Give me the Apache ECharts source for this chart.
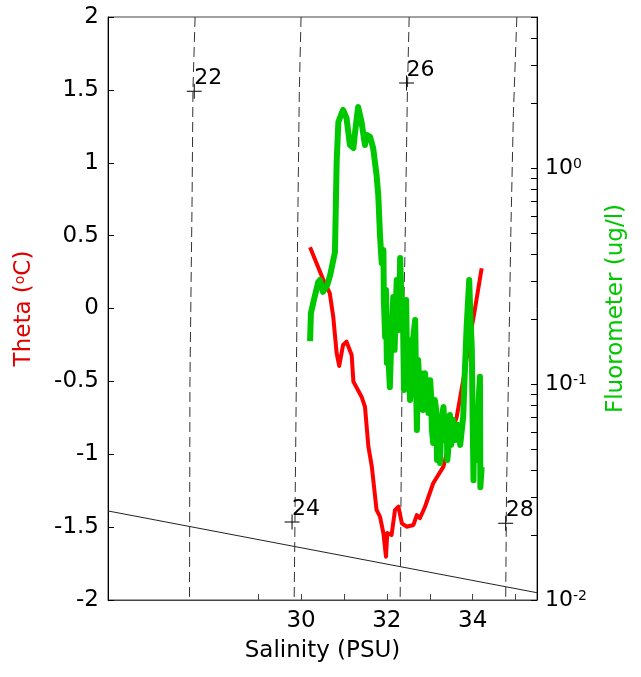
<!DOCTYPE html>
<html><head><meta charset="utf-8">
<style>html,body{margin:0;padding:0;background:#fff}#chart{width:641px;height:677px}</style>
<script src="https://cdn.jsdelivr.net/npm/echarts@6.0.0/dist/echarts.min.js"></script>
</head><body><div id="chart"></div>
<script>
// Theta vs salinity (red)
const thetaSalinity = [30.21, 30.52, 30.67, 30.75, 30.83, 30.89, 30.98, 31.06, 31.18, 31.22, 31.41, 31.49, 31.57, 31.65, 31.76, 31.84, 31.92, 31.98, 32.01, 32.11, 32.19, 32.27, 32.35, 32.46, 32.62, 32.70, 32.77, 32.89, 33.08, 33.32, 33.51, 33.63, 33.78, 33.94, 34.05, 34.21];
const theta = [0.42, 0.196, 0.105, -0.056, -0.307, -0.394, -0.250, -0.228, -0.319, -0.502, -0.605, -0.674, -0.948, -1.085, -1.382, -1.428, -1.542, -1.703, -1.540, -1.554, -1.383, -1.360, -1.474, -1.497, -1.485, -1.417, -1.439, -1.360, -1.199, -1.085, -0.856, -0.742, -0.491, -0.194, -0.010, 0.276];
// Fluorometer vs salinity (green)
const fluorSalinity = [30.21, 30.23, 30.30, 30.40, 30.44, 30.51, 30.61, 30.68, 30.79, 30.83, 30.87, 30.95, 30.98, 31.06, 31.14, 31.22, 31.26, 31.33, 31.41, 31.49, 31.53, 31.61, 31.68, 31.76, 31.80, 31.84,
  31.88, 31.92, 31.93, 31.96, 31.98, 32.00, 32.03, 32.05, 32.07, 32.11, 32.15, 32.18, 32.23, 32.27, 32.28, 32.31, 32.34, 32.38, 32.40, 32.45, 32.47, 32.50, 32.54, 32.58, 32.61, 32.66, 32.68, 32.70, 32.73, 32.75, 32.81, 32.84, 32.89, 32.94, 32.97, 33.01, 33.03, 33.05, 33.08, 33.12, 33.15, 33.17, 33.20, 33.24, 33.27, 33.32, 33.36, 33.40, 33.41, 33.43, 33.47, 33.50, 33.55, 33.59, 33.66, 33.71, 33.78, 33.81, 33.86, 33.92, 33.95, 33.98, 34.00, 34.02, 34.03, 34.05, 34.10, 34.14, 34.17, 34.18, 34.21];
const fluor = [0.158, 0.213, 0.245, 0.296, 0.303, 0.267, 0.287, 0.320, 0.408, 1.066, 1.633, 1.797, 1.856, 1.703, 1.277, 1.238, 1.468, 1.916, 1.633, 1.277, 1.422, 1.392, 1.238, 0.929, 0.750, 0.490,
  0.363, 0.417, 0.245, 0.165, 0.272, 0.125, 0.198, 0.116, 0.0968, 0.178, 0.253, 0.144, 0.303, 0.245, 0.178, 0.383, 0.245, 0.178, 0.0938, 0.245, 0.129, 0.160, 0.0843, 0.104, 0.160, 0.198, 0.104, 0.0612, 0.129, 0.104, 0.112, 0.0758, 0.112, 0.0843, 0.0734, 0.104, 0.0889, 0.0612, 0.0533, 0.0843, 0.0758, 0.0445, 0.0660, 0.0431, 0.0681, 0.0783, 0.0550, 0.0568, 0.0445, 0.0495, 0.0719, 0.0522, 0.0681, 0.0550, 0.0646, 0.0522, 0.0704, 0.104, 0.184, 0.303, 0.198, 0.148, 0.0681, 0.0359, 0.0550, 0.0612, 0.0445, 0.0843, 0.108, 0.0333, 0.0413];
// Isopycnals (sigma-theta), dashed
const isoLevels = ['22', '24', '26', '28'];
const isoTheta = [[2, 1.5, 0.75, -0.5, -2], [2, 1.5, 0.5, -0.5, -2], [2, 1.5, 0.35, -0.6, -2], [2, 1.34, 0.52, -0.2, -1.25, -2]];
const isoSalinity = [[27.53, 27.48, 27.46, 27.41, 27.40], [30.0, 29.96, 29.92, 29.89, 29.84], [32.52, 32.48, 32.42, 32.35, 32.31], [35.03, 34.95, 34.89, 34.85, 34.79, 34.77]];
// Isopycnal label markers
const markerSalinity = [27.51, 29.79, 32.46, 34.77];
const markerTheta = [1.49, -1.465, 1.547, -1.474];
// Freezing line
const freezeSalinity = [25.5, 35.5];
const freezeTheta = [-1.389, -1.95];
// Axis ticks
const xTickValues = [29, 30, 31, 32, 33, 34, 35];
const xLabelValues = [30, 32, 34];
const fluorMinorTicks = [0.02, 0.03, 0.04, 0.05, 0.06, 0.07, 0.08, 0.09, 0.2, 0.3, 0.4, 0.5, 0.6, 0.7, 0.8, 0.9, 2, 3, 4];

const FONT = 'DejaVu Sans';
const RED = '#ff0000';
const GREEN = '#00c800';

const chart = echarts.init(document.getElementById('chart'), null, {renderer: 'canvas'});

const series = [];
series.push({
  type: 'line', xAxisIndex: 0, yAxisIndex: 0, symbol: 'none', silent: true, z: 1,
  lineStyle: {color: '#222', width: 1},
  data: freezeSalinity.map((s, i) => [s, freezeTheta[i]])
});
isoLevels.forEach((lvl, k) => {
  series.push({
    type: 'line', name: 'sigma' + lvl, xAxisIndex: 0, yAxisIndex: 0, symbol: 'none', silent: true, z: 2,
    lineStyle: {color: '#333', width: 1, type: [10, 5]},
    data: isoSalinity[k].map((s, i) => [s, isoTheta[k][i]])
  });
});
series.push({
  type: 'scatter', xAxisIndex: 0, yAxisIndex: 0, z: 3, silent: true,
  symbol: 'path://M0,7H15V8H0Z M7,0H8V15H7Z', symbolSize: 15,
  itemStyle: {color: '#000', opacity: 1},
  label: {show: true, position: [7.5, -5.5], align: 'left', verticalAlign: 'middle',
    formatter: p => isoLevels[p.dataIndex], fontSize: 22, fontFamily: FONT, color: '#000', opacity: 1},
  data: markerSalinity.map((s, i) => [s, markerTheta[i]])
});
series.push({
  type: 'line', name: 'Theta', xAxisIndex: 0, yAxisIndex: 0, symbol: 'none', z: 4,
  lineStyle: {color: RED, width: 4, join: 'round'},
  data: thetaSalinity.map((s, i) => [s, theta[i]])
});
series.push({
  type: 'line', name: 'Fluorometer', xAxisIndex: 0, yAxisIndex: 1, symbol: 'none', z: 5,
  lineStyle: {color: GREEN, width: 6, join: 'round'},
  data: fluorSalinity.map((s, i) => [s, fluor[i]])
});

chart.setOption({
  animation: false,
  backgroundColor: '#fff',
  grid: {left: 108, right: 104, top: 17, bottom: 77, show: true, borderColor: '#444', borderWidth: 1, outerBoundsMode: 'none'},
  xAxis: [{
    type: 'value', min: 25.5, max: 35.5,
    name: 'Salinity (PSU)', nameLocation: 'middle', nameGap: 40,
    nameTextStyle: {fontSize: 23, fontFamily: FONT, color: '#000'},
    axisLine: {show: true, onZero: false, lineStyle: {color: '#444', width: 1}},
    axisTick: {show: true, inside: true, length: 6, customValues: xTickValues, lineStyle: {color: '#444'}},
    axisLabel: {customValues: xLabelValues, fontSize: 23, fontFamily: FONT, color: '#000', margin: 10},
    splitLine: {show: false}
  }],
  yAxis: [{
    type: 'value', min: -2, max: 2, interval: 0.5, position: 'left',
    name: 'Theta ({s|o}C)', nameLocation: 'middle', nameRotate: 90, nameGap: 72,
    nameTextStyle: {fontSize: 23, fontFamily: FONT, color: '#e00000',
      rich: {s: {fontSize: 14, fontFamily: FONT, color: '#e00000', verticalAlign: 'top'}}},
    axisLine: {show: true, onZero: false, lineStyle: {color: '#000', width: 1}},
    axisTick: {show: true, inside: true, length: 6, lineStyle: {color: '#000'}},
    axisLabel: {fontSize: 23, fontFamily: FONT, color: '#000', margin: 9},
    splitLine: {show: false}
  }, {
    type: 'log', logBase: 10, min: 0.01, max: 5, position: 'right',
    name: 'Fluorometer (ug/l)', nameLocation: 'middle', nameRotate: 90, nameGap: 68,
    nameTextStyle: {fontSize: 23, fontFamily: FONT, color: GREEN},
    axisLine: {show: true, onZero: false, lineStyle: {color: '#000', width: 1}},
    axisTick: {show: true, inside: true, length: 6, lineStyle: {color: '#000'}},
    axisLabel: {
      fontSize: 22, fontFamily: FONT, color: '#000', margin: 8,
      formatter: v => {
        const e = Math.log10(v);
        const r = Math.round(e);
        if (Math.abs(e - r) > 1e-6) return '';
        return '{b|10}{s|' + r + '}';
      },
      rich: {b: {fontSize: 22, fontFamily: FONT, color: '#000'}, s: {fontSize: 14, fontFamily: FONT, color: '#000', verticalAlign: 'top'}}
    },
    splitLine: {show: false}
  }, {
    type: 'value', min: -2, max: Math.log10(5), position: 'right',
    axisLine: {show: false, onZero: false},
    axisTick: {show: true, inside: true, length: 6, customValues: fluorMinorTicks.map(v => Math.log10(v)), lineStyle: {color: '#000'}},
    axisLabel: {show: false},
    splitLine: {show: false}
  }],
  series: series
});
</script>
</body></html>
